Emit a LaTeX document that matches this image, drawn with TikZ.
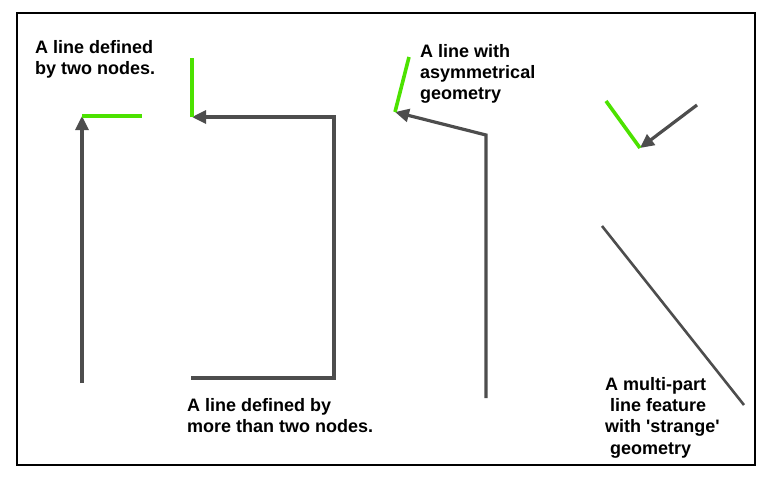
\documentclass[tikz,border=0pt]{standalone}
\usepackage{fontspec}
\setmainfont{Liberation Sans}
\usetikzlibrary{positioning, arrows.meta}
\definecolor{lineink}{RGB}{77,77,77}
\definecolor{partgreen}{RGB}{76,226,0}

\begin{document}
\begin{tikzpicture}[
  x=1pt, y=-1pt,
  frame/.style={draw=black, line width=1.2pt},
  seg/.style={draw=lineink, line width=3.2pt, line join=miter},
  tipseg/.style={seg, -{Triangle[length=14pt, width=13pt]}},
  part/.style={draw=partgreen, line width=3.6pt},
  note/.style={font=\fontsize{18}{21.3}\selectfont\bfseries, align=left,
    inner sep=0pt, anchor=north west}
]
  \useasboundingbox (0,0) rectangle (768,480);
  \draw[frame] (17,13) rectangle (755,465);

  % a line defined by two nodes
  \coordinate (a0) at (82,383);
  \coordinate (a1) at (82,116);
  \coordinate (a2) at (142,116);
  \draw[tipseg] (a0) -- (a1);
  \draw[part] (a1) -- (a2);
  \node[note] (na) at (35,40) {A line defined\\by two nodes.};

  % a line defined by more than two nodes
  \coordinate (b0) at (191,378);
  \coordinate (b1) at (334,378);
  \coordinate (b2) at (334,117);
  \coordinate (b3) at (192,117);
  \coordinate (b4) at (192,58);
  \draw[tipseg] (b0) -- (b1) -- (b2) -- (b3);
  \draw[part] (b3) -- (b4);
  \node[note] (nb) at (187,398) {A line defined by\\more than two nodes.};

  % asymmetrical geometry
  \coordinate (c0) at (486,398);
  \coordinate (c1) at (486,135);
  \coordinate (c2) at (395,112);
  \coordinate (c3) at (409,57);
  \draw[tipseg] (c0) -- (c1) -- (c2);
  \draw[part] (c2) -- (c3);
  \node[note] (nc) at (420,44) {A line with\\asymmetrical\\geometry};

  % multi-part feature
  \coordinate (d0) at (697,105);
  \coordinate (d1) at (640,148);
  \coordinate (d2) at (606,101);
  \coordinate (d3) at (602,226);
  \coordinate (d4) at (744,405);
  \draw[tipseg] (d0) -- (d1);
  \draw[part] (d1) -- (d2);
  \draw[seg, line width=2.6pt] (d3) -- (d4);
  \node[note] (nd) at (605,377)
    {A multi-part\\\hspace*{5pt}line feature\\with \textquotesingle strange\textquotesingle\\\hspace*{5pt}geometry};
\end{tikzpicture}
\end{document}
